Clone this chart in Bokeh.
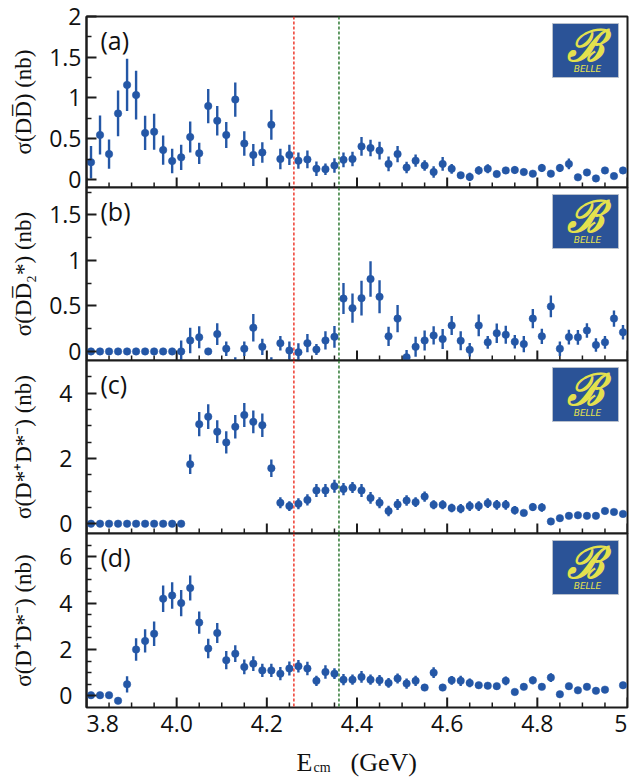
from bokeh.plotting import figure
from bokeh.models import (ColumnDataSource, FixedTicker, Span, Label, BoxAnnotation,
                          Range1d, CustomJSTickFormatter)
from bokeh.layouts import column
from bokeh.embed import file_html
from bokeh.resources import INLINE
import math

# ---------------- data ----------------
x_ecm = [3.81, 3.83, 3.85, 3.87, 3.89, 3.91, 3.93, 3.95, 3.97, 3.99,
         4.01, 4.03, 4.05, 4.07, 4.09, 4.11, 4.13, 4.15, 4.17, 4.19,
         4.21, 4.23, 4.25, 4.27, 4.29, 4.31, 4.33, 4.35, 4.37, 4.39,
         4.41, 4.43, 4.45, 4.47, 4.49, 4.51, 4.53, 4.55, 4.57, 4.59,
         4.61, 4.63, 4.65, 4.67, 4.69, 4.71, 4.73, 4.75, 4.77, 4.79,
         4.81, 4.83, 4.85, 4.87, 4.89, 4.91, 4.93, 4.95, 4.97, 4.99]

sig_dd = [0.21, 0.545, 0.31, 0.81, 1.16, 1.035, 0.57, 0.585, 0.36, 0.225,
          0.27, 0.52, 0.32, 0.90, 0.72, 0.545, 0.98, 0.44, 0.30, 0.33,
          0.67, 0.25, 0.30, 0.23, 0.245, 0.13, 0.125, 0.17, 0.24, 0.25,
          0.405, 0.385, 0.353, 0.19, 0.31, 0.145, 0.23, 0.17, 0.09, 0.19,
          0.13, 0.05, 0.03, 0.11, 0.13, 0.065, 0.11, 0.115, 0.09, 0.07,
          0.14, 0.07, 0.14, 0.19, 0.025, 0.085, 0.012, 0.11, 0.04, 0.11]
err_dd = [0.2, 0.24, 0.18, 0.28, 0.32, 0.3, 0.21, 0.22, 0.18, 0.15,
          0.155, 0.19, 0.13, 0.21, 0.18, 0.16, 0.21, 0.15, 0.135, 0.125,
          0.185, 0.125, 0.125, 0.1, 0.11, 0.09, 0.07, 0.09, 0.09, 0.09,
          0.115, 0.1, 0.11, 0.09, 0.1, 0.07, 0.075, 0.065, 0.07, 0.085,
          0.06, 0.04, 0.05, 0.05, 0.055, 0.04, 0.04, 0.045, 0.04, 0.03,
          0.05, 0.03, 0.05, 0.065, 0.02, 0.03, 0.02, 0.03, 0.02, 0.03]

sig_dd2 = [0, 0, 0, 0, 0, 0, 0, 0, 0, 0,
           0.0, 0.12, 0.155, 0.0, 0.19, 0.03, -0.14, 0.03, 0.26, 0.05,
           -0.14, 0.09, 0.01, -0.01, 0.09, 0.02, 0.12, 0.16, 0.58, 0.475,
           0.585, 0.795, 0.6, 0.165, 0.36, -0.065, 0.05, 0.12, 0.175, 0.135,
           0.285, 0.117, 0.018, 0.285, 0.1, 0.2, 0.183, 0.106, 0.08, 0.36,
           0.165, 0.494, 0.03, 0.157, 0.154, 0.23, 0.07, 0.1, 0.36, 0.21]
err_dd2 = [0, 0, 0, 0, 0, 0, 0, 0, 0, 0,
           0.12, 0.14, 0.12, 0.0, 0.12, 0.08, 0.075, 0.08, 0.15, 0.09,
           0.075, 0.08, 0.1, 0.1, 0.1, 0.06, 0.1, 0.12, 0.17, 0.16,
           0.19, 0.195, 0.18, 0.105, 0.15, 0.08, 0.11, 0.11, 0.1, 0.11,
           0.105, 0.105, 0.075, 0.12, 0.07, 0.107, 0.1, 0.073, 0.09, 0.105,
           0.085, 0.12, 0.08, 0.08, 0.08, 0.08, 0.073, 0.07, 0.09, 0.08]

sig_dsds = [0, 0, 0, 0, 0, 0, 0, 0, 0, 0,
            0, 1.82, 3.05, 3.28, 2.82, 2.49, 2.97, 3.33, 3.12, 3.02,
            1.70, 0.64, 0.54, 0.61, 0.73, 1.02, 1.02, 1.15, 1.06, 1.11,
            1.02, 0.79, 0.64, 0.39, 0.59, 0.71, 0.66, 0.83, 0.58, 0.58,
            0.48, 0.46, 0.54, 0.54, 0.63, 0.58, 0.58, 0.41, 0.33, 0.51,
            0.50, 0.07, 0.17, 0.24, 0.26, 0.24, 0.24, 0.39, 0.36, 0.30]
err_dsds = [0, 0, 0, 0, 0, 0, 0, 0, 0, 0,
            0, 0.3, 0.37, 0.38, 0.35, 0.34, 0.36, 0.37, 0.35, 0.36,
            0.27, 0.17, 0.15, 0.17, 0.17, 0.2, 0.2, 0.2, 0.19, 0.17,
            0.2, 0.18, 0.17, 0.16, 0.17, 0.16, 0.15, 0.16, 0.14, 0.14,
            0.13, 0.14, 0.15, 0.15, 0.15, 0.15, 0.15, 0.13, 0.08, 0.12,
            0.13, 0.05, 0.06, 0.06, 0.06, 0.06, 0.06, 0.1, 0.08, 0.07]

nan = float("nan")
sig_dds = [0.03, 0.03, 0.03, -0.21, 0.5, 2.0, 2.37, 2.68, 4.19, 4.33,
           4.0, 4.65, 3.16, 2.04, 2.71, 1.54, 1.82, 1.25, 1.39, 1.1,
           1.1, 0.96, 1.18, 1.28, 1.18, 0.65, 1.03, 0.96, 0.70, 0.70,
           0.82, 0.70, 0.67, 0.56, 0.75, 0.53, 0.65, 0.36, 1.0, 0.36,
           0.67, 0.65, 0.56, 0.46, 0.44, 0.42, 0.65, 0.17, 0.39, 0.67,
           0.39, 0.79, 0.07, 0.42, 0.24, 0.39, 0.22, 0.27, nan, 0.46]
err_dds = [0, 0, 0, 0, 0.35, 0.48, 0.5, 0.53, 0.57, 0.57,
           0.57, 0.54, 0.48, 0.42, 0.43, 0.39, 0.36, 0.32, 0.32, 0.29,
           0.29, 0.29, 0.3, 0.27, 0.29, 0.22, 0.29, 0.23, 0.24, 0.22,
           0.25, 0.22, 0.23, 0.21, 0.22, 0.22, 0.22, 0.1, 0.23, 0.1,
           0.19, 0.22, 0.19, 0.12, 0.12, 0.1, 0.19, 0.08, 0.1, 0.17,
           0.12, 0.19, 0.05, 0.1, 0.08, 0.08, 0.06, 0.06, nan, 0.08]

x_major = [3.8, 4.0, 4.2, 4.4, 4.6, 4.8, 5.0]
x_tick_labels = ["3.8", "4.0", "4.2", "4.4", "4.6", "4.8", "5"]
x_minor = [3.85, 3.9, 3.95, 4.05, 4.1, 4.15, 4.25, 4.3, 4.35, 4.45, 4.5, 4.55,
           4.65, 4.7, 4.75, 4.85, 4.9, 4.95]
line_red = 4.26
line_green = 4.36

# ---------------- styling ----------------
BLUE = "#2457A6"
AXC = "#1c1c1c"
FRAME_W = 541
LEFT = 86
RIGHT = 8
PAD = 14          # transparent border above / below each panel (overlapped)
X_START, X_END = 3.8, 5.0
TICK_FONT = "Open Sans"
SERIF = "Liberation Serif"
dxp = (X_END - X_START) / FRAME_W

panels = [
    dict(tag="(a)", y=sig_dd, e=err_dd, yr=(-0.1, 2.0), fh=171, top=16,
         major=[0, 0.5, 1, 1.5, 2], minor=[0.25, 0.75, 1.25, 1.75],
         ylabel="σ(DD\u0305) (nb)", lstd=5, astd=10),
    dict(tag="(b)", y=sig_dd2, e=err_dd2, yr=(-0.1, 1.8), fh=173, top=PAD,
         major=[0, 0.5, 1, 1.5], minor=[0.25, 0.75, 1.25, 1.75],
         ylabel="σ(DD\u0305\u2082*) (nb)", lstd=5, astd=10),
    dict(tag="(c)", y=sig_dsds, e=err_dsds, yr=(-0.3, 5.0), fh=173, top=PAD,
         major=[0, 2, 4], minor=[0.5, 1, 1.5, 2.5, 3, 3.5, 4.5],
         ylabel="σ(D*\u207AD*\u207B) (nb)", lstd=14, astd=20),
    dict(tag="(d)", y=sig_dds, e=err_dds, yr=(-0.5, 7.0), fh=174, top=PAD,
         major=[0, 2, 4, 6], minor=[0.5, 1, 1.5, 2.5, 3, 3.5, 4.5, 5, 5.5, 6.5],
         ylabel="σ(D\u207AD*\u207B) (nb)", lstd=14, astd=20),
]

figs = []
for i, cfg in enumerate(panels):
    first = i == 0
    y0, y1 = cfg["yr"]
    fh = cfg["fh"]
    dyp = (y1 - y0) / fh

    p = figure(frame_width=FRAME_W, frame_height=fh,
               x_range=Range1d(X_START, X_END), y_range=Range1d(y0, y1),
               output_backend="svg", toolbar_location=None,
               x_axis_location=None,
               min_border_left=LEFT, min_border_right=RIGHT,
               min_border_top=cfg["top"], min_border_bottom=PAD,
               margin=((0, 0, 0, 0) if first else (-2 * PAD, 0, 0, 0)))
    p.grid.visible = False
    p.background_fill_color = "white"
    p.border_fill_color = None
    p.outline_line_color = AXC
    p.outline_line_width = 2

    # inward ticks along the bottom edge of each panel
    p.segment(x0=x_major, y0=[y0] * len(x_major), x1=x_major,
              y1=[y0 + 10 * dyp] * len(x_major), line_color=AXC, line_width=2)
    p.segment(x0=x_minor, y0=[y0] * len(x_minor), x1=x_minor,
              y1=[y0 + 5 * dyp] * len(x_minor), line_color=AXC, line_width=1.5)

    ya = p.yaxis[0]
    ya.ticker = FixedTicker(ticks=cfg["major"], minor_ticks=cfg["minor"])
    ya.formatter = CustomJSTickFormatter(code="return tick.toString();")
    ya.axis_line_width = 2
    ya.axis_line_color = AXC
    ya.major_tick_in = 10
    ya.major_tick_out = 0
    ya.minor_tick_in = 5
    ya.minor_tick_out = 0
    ya.major_tick_line_width = 2
    ya.minor_tick_line_width = 1.5
    ya.major_tick_line_color = AXC
    ya.minor_tick_line_color = AXC
    ya.major_label_text_font = TICK_FONT
    ya.major_label_text_font_size = "23px"
    ya.major_label_text_color = "#111111"
    ya.major_label_standoff = cfg["lstd"]
    ya.axis_label = cfg["ylabel"]
    ya.axis_label_text_font = SERIF
    ya.axis_label_text_font_style = "normal"
    ya.axis_label_text_font_size = "23px"
    ya.axis_label_text_color = "#111111"
    ya.axis_label_standoff = cfg["astd"]

    # data
    xs, ys, lo, hi = [], [], [], []
    for xv, yv, ev in zip(x_ecm, cfg["y"], cfg["e"]):
        if yv is None or (isinstance(yv, float) and math.isnan(yv)):
            continue
        xs.append(xv)
        ys.append(yv)
        lo.append(yv - ev)
        hi.append(yv + ev)
    src = ColumnDataSource(data=dict(x=xs, y=ys, lo=lo, hi=hi))
    p.segment(x0="x", y0="lo", x1="x", y1="hi", source=src,
              line_color=BLUE, line_width=2.4)
    p.scatter(x="x", y="y", source=src, size=7.5, marker="circle",
              fill_color=BLUE, line_color=BLUE, line_width=0.5)

    # reference lines
    p.add_layout(Span(location=line_red, dimension="height", line_color="#EE3B2F",
                      line_width=1.5, line_dash="3 2"))
    p.add_layout(Span(location=line_green, dimension="height", line_color="#2F7A33",
                      line_width=1.5, line_dash="3 2"))

    # panel tag
    p.add_layout(Label(x=X_START + 14 * dxp, y=y1 - 6 * dyp, text=cfg["tag"],
                       text_font=TICK_FONT, text_font_size="25px",
                       text_color="#111111", text_baseline="top", text_align="left"))

    # Belle logo
    lx1 = X_END - 9 * dxp
    lx0 = lx1 - 66 * dxp
    ly1 = y1 - 7 * dyp
    ly0 = ly1 - 54 * dyp
    p.add_layout(BoxAnnotation(left=lx0, right=lx1, bottom=ly0, top=ly1,
                               fill_color="#2B5397", fill_alpha=1.0,
                               line_color="#B8C0CC", line_width=1, line_alpha=1.0))
    p.add_layout(Label(x=(lx0 + lx1) / 2, y=ly1 - 22 * dyp, text="\u212C",
                       text_font="DejaVu Serif", text_font_style="bold italic",
                       text_font_size="44px", text_color="#E4E14E",
                       text_align="center", text_baseline="middle"))
    p.add_layout(Label(x=(lx0 + lx1) / 2 + 2 * dxp, y=ly0 + 9 * dyp, text="BELLE",
                       text_font="DejaVu Sans", text_font_style="italic",
                       text_font_size="9px", text_color="#E4E14E",
                       text_align="center", text_baseline="middle"))
    figs.append(p)

# bottom strip: x tick labels and the x-axis title E_cm (GeV)
TH = 72
t = figure(frame_width=FRAME_W, frame_height=TH,
           x_range=Range1d(X_START, X_END), y_range=Range1d(0, TH),
           output_backend="svg", toolbar_location=None,
           x_axis_location=None, y_axis_location=None,
           min_border_left=LEFT, min_border_right=RIGHT,
           min_border_top=0, min_border_bottom=0,
           margin=(-PAD, 0, 0, 0))
t.grid.visible = False
t.outline_line_color = None
t.background_fill_color = None
t.border_fill_color = None
for k, (xv, lab) in enumerate(zip(x_major, x_tick_labels)):
    align = "left" if k == 0 else ("right" if k == len(x_major) - 1 else "center")
    t.add_layout(Label(x=xv, y=TH - 16, text=lab, text_font=TICK_FONT,
                       text_font_size="23px", text_color="#111111",
                       text_align=align, text_baseline="middle"))
t.add_layout(Label(x=X_START + (296 - LEFT) * dxp, y=TH - 55, text="E",
                   text_font=SERIF, text_font_size="26px",
                   text_color="#111111", text_baseline="alphabetic"))
t.add_layout(Label(x=X_START + (313 - LEFT) * dxp, y=TH - 60, text="cm",
                   text_font=SERIF, text_font_size="14px",
                   text_color="#111111", text_baseline="alphabetic"))
t.add_layout(Label(x=X_START + (350 - LEFT) * dxp, y=TH - 55, text="(GeV)",
                   text_font=SERIF, text_font_size="26px",
                   text_color="#111111", text_baseline="alphabetic"))
figs.append(t)

layout = column(*figs, spacing=0)
open("out.html", "w").write(file_html(layout, INLINE))
